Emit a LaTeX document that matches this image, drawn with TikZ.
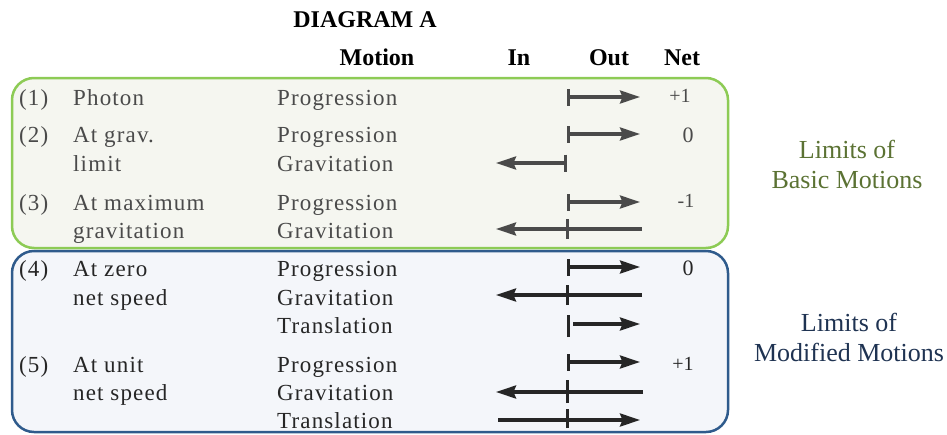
\documentclass[tikz,border=0pt]{standalone}
\usepackage{fontspec}
\setmainfont{Liberation Serif}
\usetikzlibrary{arrows.meta}
\definecolor{basicline}{HTML}{8DCB55}
\definecolor{basicfill}{HTML}{F5F6F0}
\definecolor{modline}{HTML}{2F5B8C}
\definecolor{modfill}{HTML}{F4F6FA}
\definecolor{basictext}{HTML}{5B7233}
\definecolor{modtext}{HTML}{1F3352}
\definecolor{basicink}{HTML}{4A4A4A}
\definecolor{modink}{HTML}{262626}
\tikzset{
  body/.style={font=\fontsize{23}{27}\selectfont\addfontfeature{LetterSpace=5}, inner sep=0pt, anchor=base west},
  head/.style={font=\fontsize{24}{28}\selectfont\bfseries, inner sep=0pt, anchor=base},
  net/.style={font=\fontsize{20}{24}\selectfont, inner sep=0pt, anchor=base},
  side/.style={font=\fontsize{26}{30}\selectfont, align=center, inner sep=0pt, anchor=north},
  vec/.style={line width=3.2pt, -{Stealth[length=20pt,width=13pt,inset=2.5pt]}},
  out vec/.style={line width=3.2pt, {Bar[width=17pt]}-{Stealth[length=20pt,width=13pt,inset=2.5pt]}},
  tick/.style={line width=3pt},
}

\begin{document}
\begin{tikzpicture}[x=1pt,y=-1pt]
  \useasboundingbox (0,0) rectangle (947,434);

  % boxes
  \draw[basicline,fill=basicfill,line width=2.5pt,rounded corners=22pt] (12,78) rectangle (728,248);
  \draw[modline,fill=modfill,line width=2.5pt,rounded corners=22pt] (12,251) rectangle (728,432);

  % headings
  \node[head] (title) at (365,27) {DIAGRAM A};
  \node[head] (hmotion) at (377,65) {Motion};
  \node[head] (hin) at (519,65) {In};
  \node[head] (hout) at (609,65) {Out};
  \node[head] (hnet) at (682,65) {Net};

  % Limits of basic motions
  \begin{scope}[basicink]
    \foreach \n/\b in {(1)/105,(2)/142,(3)/210}
      \node[body] (num\b) at (19,\b) {\n};
    \foreach \t/\b in {Photon/105,At grav./142,limit/171,At maximum/210,gravitation/238}
      \node[body] (lab\b) at (73,\b) {\t};
    \foreach \t/\b in {Progression/105,Progression/142,Gravitation/171,Progression/210,Gravitation/238}
      \node[body] (mot\b) at (277,\b) {\t};

    \coordinate (z1) at (567,97);  \coordinate (e1) at (640,97);
    \coordinate (z2) at (567,134); \coordinate (e2) at (640,134);
    \coordinate (z3) at (567,163); \coordinate (w3) at (496,163);
    \coordinate (z4) at (567,202); \coordinate (e4) at (640,202);
    \coordinate (z5) at (567,229); \coordinate (w5) at (496,229); \coordinate (r5) at (642,229);
    \draw[out vec] (z1) -- (e1);
    \draw[out vec] (z2) -- (e2);
    \draw[out vec] (z3) -- (w3);
    \draw[out vec] (z4) -- (e4);
    \draw[vec] (r5) -- (w5);
    \draw[tick] ([yshift=-10pt]z5) -- ([yshift=10pt]z5);

    \node[net] (net1) at (680,102) {+1};
    \node[net,font=\fontsize{22}{26}\selectfont] (net2) at (688,142) {0};
    \node[net] (net4) at (686,207) {-1};
  \end{scope}

  % Limits of modified motions
  \begin{scope}[modink]
    \foreach \n/\b in {(4)/276,(5)/372}
      \node[body] (num\b) at (19,\b) {\n};
    \foreach \t/\b in {At zero/276,net speed/305,At unit/372,net speed/400}
      \node[body] (lab\b) at (73,\b) {\t};
    \foreach \t/\b in {Progression/276,Gravitation/305,Translation/333,Progression/372,Gravitation/400,Translation/428}
      \node[body] (mot\b) at (277,\b) {\t};

    \coordinate (z6) at (567,267);  \coordinate (e6) at (640,267);
    \coordinate (z7) at (567,295);  \coordinate (w7) at (496,295); \coordinate (r7) at (642,295);
    \coordinate (z8) at (568,324);  \coordinate (s8) at (573,324); \coordinate (e8) at (640,324);
    \coordinate (z9) at (567,362);  \coordinate (e9) at (640,362);
    \coordinate (z10) at (567,392); \coordinate (w10) at (496,392); \coordinate (r10) at (643,392);
    \coordinate (z11) at (567,420); \coordinate (l11) at (498,420); \coordinate (e11) at (640,420);
    \draw[out vec] (z6) -- (e6);
    \draw[vec] (r7) -- (w7);
    \draw[tick] ([yshift=-10pt]z7) -- ([yshift=10pt]z7);
    \draw[vec] (s8) -- (e8);
    \draw[tick] ([yshift=-13pt]z8) -- ([yshift=9pt]z8);
    \draw[out vec] (z9) -- (e9);
    \draw[vec] (r10) -- (w10);
    \draw[tick] ([yshift=-11pt]z10) -- ([yshift=12pt]z10);
    \draw[vec] (l11) -- (e11);
    \draw[tick] ([yshift=-8pt]z11) -- ([yshift=11pt]z11);

    \node[net,font=\fontsize{22}{26}\selectfont] (net6) at (688,275) {0};
    \node[net] (net9) at (683,370) {+1};
  \end{scope}

  % side labels
  \node[side,basictext] (basic) at (847,140) {Limits of\\Basic Motions};
  \node[side,modtext] (modified) at (849,313) {Limits of\\Modified Motions};
\end{tikzpicture}
\end{document}
